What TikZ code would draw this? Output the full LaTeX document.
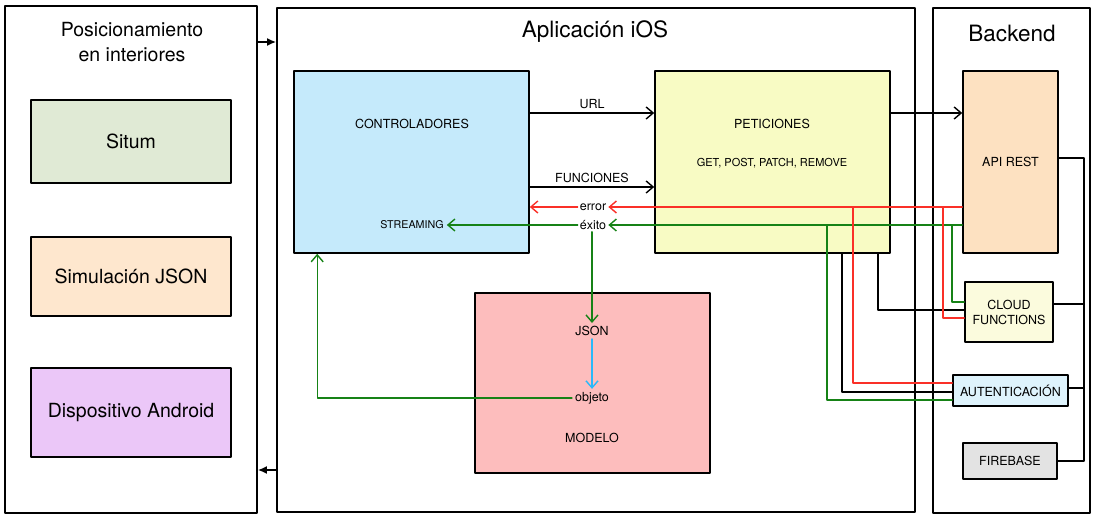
\documentclass[tikz,border=0pt]{standalone}
\usepackage{fontspec}
\setmainfont{TeX Gyre Heros}
\usepackage{tikz}
\usetikzlibrary{arrows.meta,calc,positioning}
\definecolor{situmc}{RGB}{224,234,213}
\definecolor{simc}{RGB}{254,231,206}
\definecolor{androidc}{RGB}{235,199,248}
\definecolor{ctrlc}{RGB}{197,234,251}
\definecolor{petc}{RGB}{248,251,196}
\definecolor{modc}{RGB}{253,189,189}
\definecolor{apic}{RGB}{253,225,193}
\definecolor{cloudc}{RGB}{251,251,221}
\definecolor{authc}{RGB}{222,243,252}
\definecolor{firec}{RGB}{227,227,227}
\definecolor{okgreen}{RGB}{22,130,22}
\definecolor{errred}{RGB}{250,48,40}
\definecolor{cyanc}{RGB}{40,185,250}
\tikzset{
  outer/.style={draw, line width=1.8pt, inner sep=0pt},
  blk/.style={draw, line width=1.6pt, inner sep=0pt, align=center, font=\fontsize{12.5}{15}\selectfont},
  lbl/.style={inner sep=3pt, font=\fontsize{12.5}{14}\selectfont},
  title/.style={inner sep=1pt, font=\fontsize{22.5}{26}\selectfont},
  conn/.style={line width=1.4pt},
  okc/.style={conn, draw=okgreen},
  errc/.style={conn, draw=errred},
  arr/.style={-{Straight Barb[length=7pt,width=12pt]}},
  frarr/.style={line width=1.6pt, -{Latex[length=9pt,width=8pt]}},
  every picture/.style={line cap=round, line join=round}
}

\begin{document}
\begin{tikzpicture}[x=1pt,y=-1pt]
    \useasboundingbox (0,0) rectangle (1100,521);

    % marcos
    \node[outer, minimum width=252pt, minimum height=507pt] (pos) at (131,259.5) {};
    \node[outer, minimum width=638pt, minimum height=504pt] (app) at (596,260) {};
    \node[outer, minimum width=157pt, minimum height=505pt] (back) at (1011.5,260.5) {};

    \node[title, align=center, font=\fontsize{19.5}{25}\selectfont] (posTitle) at (132,42) {Posicionamiento\\en interiores};
    \node[title] (appTitle) at (595,32) {Aplicación iOS};
    \node[title] (backTitle) at (1012,33) {Backend};

    \coordinate (yBack) at (0,470);
    \draw[frarr] (pos.east |- posTitle) -- (app.west |- posTitle);
    \draw[frarr] (app.west |- yBack) -- (pos.east |- yBack);

    % posicionamiento
    \foreach \name/\y/\h/\col/\txt in {
      situm/141.5/83pt/situmc/Situm,
      sim/276.5/79pt/simc/Simulación JSON,
      android/412.5/89pt/androidc/Dispositivo Android}
    {
      \node[blk, fill=\col, minimum width=200pt, minimum height=\h, font=\fontsize{19.5}{22}\selectfont] (\name) at (131,\y) {\txt};
    }

    % aplicacion
    \node[blk, fill=ctrlc, minimum width=235pt, minimum height=182pt] (ctrl) at (411.5,162) {};
    \node[blk, fill=petc, minimum width=235pt, minimum height=182pt] (pet) at (772.5,162) {};
    \node[blk, fill=modc, minimum width=235pt, minimum height=180pt] (modelo) at (592.5,383) {};

    \node[lbl] (ctrlLbl) at (412,124) {CONTROLADORES};
    \node[lbl, font=\fontsize{10.7}{12}\selectfont] (stream) at (412,225) {STREAMING};
    \node[lbl] (petLbl) at (772,124) {PETICIONES};
    \node[lbl, font=\fontsize{11}{12}\selectfont] (metodos) at (772,163) {GET, POST, PATCH, REMOVE};
    \node[lbl] (json) at (592,331) {JSON};
    \node[lbl] (objeto) at (592,398) {objeto};
    \node[lbl] (modLbl) at (592,438) {MODELO};
    \node[lbl, inner sep=2pt] (errLbl) at (593,207) {error};
    \node[lbl, inner sep=2pt] (okLbl) at (593,225) {éxito};

    % backend
    \node[blk, fill=apic, minimum width=95pt, minimum height=182pt] (api) at (1010.5,162) {API REST};
    \node[blk, fill=cloudc, minimum width=88pt, minimum height=60pt] (cloud) at (1009,312) {CLOUD\\FUNCTIONS};
    \node[blk, fill=authc, minimum width=115pt, minimum height=31pt] (auth) at (1010.5,390.5) {AUTENTICACIÓN};
    \node[blk, fill=firec, minimum width=94pt, minimum height=36pt] (fire) at (1010,461) {FIREBASE};

    % peticiones
    \coordinate (yUrl) at (0,113);
    \coordinate (yFun) at (0,187);
    \draw[conn, arr] (ctrl.east |- yUrl) -- node[lbl, above=1pt] (urlLbl) {URL} (pet.west |- yUrl);
    \draw[conn, arr] (ctrl.east |- yFun) -- node[lbl, above=1pt] (funLbl) {FUNCIONES} (pet.west |- yFun);
    \draw[conn, arr] (pet.east |- yUrl) -- (api.west |- yUrl);

    % respuestas
    \draw[errc, arr] (api.west |- errLbl) -- (errLbl.east);
    \draw[errc, arr] (errLbl.west) -- (ctrl.east |- errLbl);
    \draw[okc, arr] (api.west |- okLbl) -- (okLbl.east);
    \draw[okc, arr] (okLbl.west) -- (stream.east);
    \draw[okc, arr] (json |- okLbl.south) -- (json.north);
    \draw[conn, draw=cyanc, arr] (json.south) -- (objeto.north);
    \coordinate (ctrlIn) at ([xshift=24pt]ctrl.south west);
    \draw[okc, arr] (objeto.west) -| (ctrlIn);

    % servicios
    \draw[conn] (pet.south -| 842,0) |- (auth.west |- 0,392);
    \draw[errc] (errLbl -| 853,0) |- (auth.west |- 0,383);
    \draw[okc] (okLbl -| 827,0) |- (auth.west |- 0,400);
    \draw[conn] (pet.south -| 878,0) |- (cloud.west |- 0,310);
    \draw[errc] (errLbl -| 943,0) |- (cloud.west |- 0,318);
    \draw[okc] (okLbl -| 952,0) |- (cloud.west |- 0,302);

    \coordinate (bus) at (1084,0);
    \draw[conn] (api.east |- 0,158) -| (bus |- fire) -- (fire.east);
    \draw[conn] (cloud.east |- 0,304) -- (bus |- 0,304);
    \draw[conn] (auth.east |- 0,388) -- (bus |- 0,388);
  \end{tikzpicture}
\end{document}
